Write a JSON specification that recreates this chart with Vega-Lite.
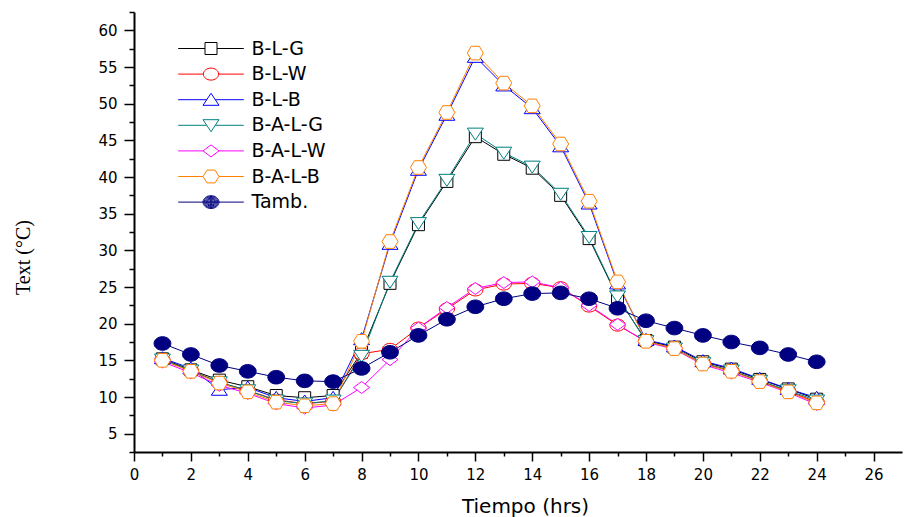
{
  "$schema": "https://vega.github.io/schema/vega-lite/v6.json",
  "width": 768,
  "height": 440,
  "autosize": {"type": "none"},
  "padding": {"left": 134, "top": 12, "right": 2, "bottom": 65},
  "background": "white",
  "config": {
    "view": {"stroke": null},
    "axis": {"grid": false, "domainColor": "black", "domainWidth": 2, "tickColor": "black", "tickWidth": 1.5, "labelColor": "black", "titleColor": "black", "labelFont": "DejaVu Sans", "labelFontSize": 15, "labelOverlap": false, "labelFlush": false, "labelBound": false}
  },
  "datasets": {
    "temps": [
      {"s":"B-L-G","t":1,"v":15.2},{"s":"B-L-G","t":2,"v":13.7},{"s":"B-L-G","t":3,"v":12.3},{"s":"B-L-G","t":4,"v":11.4},{"s":"B-L-G","t":5,"v":10.2},{"s":"B-L-G","t":6,"v":9.9},{"s":"B-L-G","t":7,"v":10.2},{"s":"B-L-G","t":8,"v":16.1},{"s":"B-L-G","t":9,"v":25.5},{"s":"B-L-G","t":10,"v":33.5},{"s":"B-L-G","t":11,"v":39.4},{"s":"B-L-G","t":12,"v":45.5},{"s":"B-L-G","t":13,"v":43.1},{"s":"B-L-G","t":14,"v":41.2},{"s":"B-L-G","t":15,"v":37.5},{"s":"B-L-G","t":16,"v":31.6},{"s":"B-L-G","t":17,"v":23.6},{"s":"B-L-G","t":18,"v":17.7},{"s":"B-L-G","t":19,"v":16.8},{"s":"B-L-G","t":20,"v":14.8},{"s":"B-L-G","t":21,"v":13.8},{"s":"B-L-G","t":22,"v":12.4},{"s":"B-L-G","t":23,"v":11.1},{"s":"B-L-G","t":24,"v":9.7},
      {"s":"B-L-W","t":1,"v":15.1},{"s":"B-L-W","t":2,"v":13.6},{"s":"B-L-W","t":3,"v":12.0},{"s":"B-L-W","t":4,"v":10.9},{"s":"B-L-W","t":5,"v":9.6},{"s":"B-L-W","t":6,"v":9.1},{"s":"B-L-W","t":7,"v":9.4},{"s":"B-L-W","t":8,"v":15.9},{"s":"B-L-W","t":9,"v":16.5},{"s":"B-L-W","t":10,"v":19.4},{"s":"B-L-W","t":11,"v":22.0},{"s":"B-L-W","t":12,"v":24.6},{"s":"B-L-W","t":13,"v":25.4},{"s":"B-L-W","t":14,"v":25.5},{"s":"B-L-W","t":15,"v":24.9},{"s":"B-L-W","t":16,"v":22.4},{"s":"B-L-W","t":17,"v":19.8},{"s":"B-L-W","t":18,"v":17.6},{"s":"B-L-W","t":19,"v":16.6},{"s":"B-L-W","t":20,"v":14.6},{"s":"B-L-W","t":21,"v":13.6},{"s":"B-L-W","t":22,"v":12.2},{"s":"B-L-W","t":23,"v":10.8},{"s":"B-L-W","t":24,"v":9.3},
      {"s":"B-L-B","t":1,"v":15.3},{"s":"B-L-B","t":2,"v":13.9},{"s":"B-L-B","t":3,"v":11.0},{"s":"B-L-B","t":4,"v":11.3},{"s":"B-L-B","t":5,"v":9.9},{"s":"B-L-B","t":6,"v":9.4},{"s":"B-L-B","t":7,"v":9.9},{"s":"B-L-B","t":8,"v":17.9},{"s":"B-L-B","t":9,"v":30.9},{"s":"B-L-B","t":10,"v":41.0},{"s":"B-L-B","t":11,"v":48.5},{"s":"B-L-B","t":12,"v":56.4},{"s":"B-L-B","t":13,"v":52.5},{"s":"B-L-B","t":14,"v":49.4},{"s":"B-L-B","t":15,"v":44.2},{"s":"B-L-B","t":16,"v":36.4},{"s":"B-L-B","t":17,"v":25.5},{"s":"B-L-B","t":18,"v":17.8},{"s":"B-L-B","t":19,"v":16.9},{"s":"B-L-B","t":20,"v":14.9},{"s":"B-L-B","t":21,"v":13.9},{"s":"B-L-B","t":22,"v":12.5},{"s":"B-L-B","t":23,"v":11.1},{"s":"B-L-B","t":24,"v":9.9},
      {"s":"B-A-L-G","t":1,"v":15.1},{"s":"B-A-L-G","t":2,"v":13.6},{"s":"B-A-L-G","t":3,"v":12.0},{"s":"B-A-L-G","t":4,"v":10.9},{"s":"B-A-L-G","t":5,"v":9.5},{"s":"B-A-L-G","t":6,"v":9.1},{"s":"B-A-L-G","t":7,"v":9.5},{"s":"B-A-L-G","t":8,"v":15.6},{"s":"B-A-L-G","t":9,"v":25.7},{"s":"B-A-L-G","t":10,"v":33.7},{"s":"B-A-L-G","t":11,"v":39.6},{"s":"B-A-L-G","t":12,"v":45.9},{"s":"B-A-L-G","t":13,"v":43.3},{"s":"B-A-L-G","t":14,"v":41.4},{"s":"B-A-L-G","t":15,"v":37.7},{"s":"B-A-L-G","t":16,"v":31.8},{"s":"B-A-L-G","t":17,"v":23.7},{"s":"B-A-L-G","t":18,"v":17.6},{"s":"B-A-L-G","t":19,"v":16.6},{"s":"B-A-L-G","t":20,"v":14.6},{"s":"B-A-L-G","t":21,"v":13.6},{"s":"B-A-L-G","t":22,"v":12.2},{"s":"B-A-L-G","t":23,"v":10.9},{"s":"B-A-L-G","t":24,"v":9.5},
      {"s":"B-A-L-W","t":1,"v":14.8},{"s":"B-A-L-W","t":2,"v":13.3},{"s":"B-A-L-W","t":3,"v":11.6},{"s":"B-A-L-W","t":4,"v":10.5},{"s":"B-A-L-W","t":5,"v":9.1},{"s":"B-A-L-W","t":6,"v":8.5},{"s":"B-A-L-W","t":7,"v":8.9},{"s":"B-A-L-W","t":8,"v":11.3},{"s":"B-A-L-W","t":9,"v":15.1},{"s":"B-A-L-W","t":10,"v":19.4},{"s":"B-A-L-W","t":11,"v":22.2},{"s":"B-A-L-W","t":12,"v":24.8},{"s":"B-A-L-W","t":13,"v":25.6},{"s":"B-A-L-W","t":14,"v":25.7},{"s":"B-A-L-W","t":15,"v":24.9},{"s":"B-A-L-W","t":16,"v":22.5},{"s":"B-A-L-W","t":17,"v":19.9},{"s":"B-A-L-W","t":18,"v":17.5},{"s":"B-A-L-W","t":19,"v":16.5},{"s":"B-A-L-W","t":20,"v":14.4},{"s":"B-A-L-W","t":21,"v":13.3},{"s":"B-A-L-W","t":22,"v":12.0},{"s":"B-A-L-W","t":23,"v":10.6},{"s":"B-A-L-W","t":24,"v":9.0},
      {"s":"B-A-L-B","t":1,"v":15.0},{"s":"B-A-L-B","t":2,"v":13.5},{"s":"B-A-L-B","t":3,"v":11.9},{"s":"B-A-L-B","t":4,"v":10.7},{"s":"B-A-L-B","t":5,"v":9.3},{"s":"B-A-L-B","t":6,"v":8.8},{"s":"B-A-L-B","t":7,"v":9.1},{"s":"B-A-L-B","t":8,"v":17.6},{"s":"B-A-L-B","t":9,"v":31.2},{"s":"B-A-L-B","t":10,"v":41.3},{"s":"B-A-L-B","t":11,"v":48.8},{"s":"B-A-L-B","t":12,"v":56.9},{"s":"B-A-L-B","t":13,"v":52.8},{"s":"B-A-L-B","t":14,"v":49.7},{"s":"B-A-L-B","t":15,"v":44.5},{"s":"B-A-L-B","t":16,"v":36.7},{"s":"B-A-L-B","t":17,"v":25.7},{"s":"B-A-L-B","t":18,"v":17.6},{"s":"B-A-L-B","t":19,"v":16.6},{"s":"B-A-L-B","t":20,"v":14.5},{"s":"B-A-L-B","t":21,"v":13.5},{"s":"B-A-L-B","t":22,"v":12.1},{"s":"B-A-L-B","t":23,"v":10.7},{"s":"B-A-L-B","t":24,"v":9.2},
      {"s":"Tamb.","t":1,"v":17.3},{"s":"Tamb.","t":2,"v":15.8},{"s":"Tamb.","t":3,"v":14.3},{"s":"Tamb.","t":4,"v":13.5},{"s":"Tamb.","t":5,"v":12.7},{"s":"Tamb.","t":6,"v":12.2},{"s":"Tamb.","t":7,"v":12.1},{"s":"Tamb.","t":8,"v":13.9},{"s":"Tamb.","t":9,"v":16.1},{"s":"Tamb.","t":10,"v":18.4},{"s":"Tamb.","t":11,"v":20.6},{"s":"Tamb.","t":12,"v":22.3},{"s":"Tamb.","t":13,"v":23.4},{"s":"Tamb.","t":14,"v":24.1},{"s":"Tamb.","t":15,"v":24.2},{"s":"Tamb.","t":16,"v":23.4},{"s":"Tamb.","t":17,"v":22.1},{"s":"Tamb.","t":18,"v":20.4},{"s":"Tamb.","t":19,"v":19.4},{"s":"Tamb.","t":20,"v":18.4},{"s":"Tamb.","t":21,"v":17.5},{"s":"Tamb.","t":22,"v":16.7},{"s":"Tamb.","t":23,"v":15.8},{"s":"Tamb.","t":24,"v":14.8}
    ]
  },
  "data": {"name": "temps"},
  "resolve": {"scale": {"stroke": "independent", "fill": "independent", "shape": "independent"}},
  "layer": [
    {
      "mark": {"type": "point", "size": 256, "strokeWidth": 1, "filled": true, "opacity": 0},
      "encoding": {
        "x": {
          "field": "t", "type": "quantitative",
          "scale": {"domain": [0, 27], "nice": false, "zero": false},
          "axis": {
            "values": [0,1,2,3,4,5,6,7,8,9,10,11,12,13,14,15,16,17,18,19,20,21,22,23,24,25,26],
            "tickCount": 100,
            "labelExpr": "datum.value % 2 === 0 ? format(datum.value, 'd') : ''",
            "tickSize": {"condition": {"test": "datum.value % 2 === 0", "value": 9}, "value": 4},
            "labelPadding": 6,
            "title": "Tiempo (hrs)", "titleFont": "DejaVu Sans", "titleFontSize": 20, "titleFontWeight": "normal",
            "titleX": 391, "titleY": 60, "titleBaseline": "alphabetic", "titleAlign": "center"
          }
        },
        "y": {
          "field": "v", "type": "quantitative",
          "scale": {"domain": [2.5, 62.5], "nice": false, "zero": false},
          "axis": {
            "values": [2.5,5,7.5,10,12.5,15,17.5,20,22.5,25,27.5,30,32.5,35,37.5,40,42.5,45,47.5,50,52.5,55,57.5,60,62.5],
            "tickCount": 100,
            "labelExpr": "datum.value % 5 === 0 ? format(datum.value, 'd') : ''",
            "tickSize": {"condition": {"test": "datum.value % 5 === 0", "value": 10}, "value": 5},
            "labelPadding": 7,
            "title": "Text (°C)", "titleFont": "Liberation Serif", "titleFontSize": 20, "titleFontWeight": "normal",
            "titleX": -111, "titleY": 245, "titleAngle": -90, "titleAlign": "center", "titleBaseline": "middle"
          }
        },
        "stroke": {
          "field": "s", "type": "nominal",
          "scale": {"domain": ["B-L-G","B-L-W","B-L-B","B-A-L-G","B-A-L-W","B-A-L-B","Tamb."], "range": ["#000000","#FF0000","#0000FF","#008080","#FF00FF","#FF8000","#000080"]},
          "legend": {
            "orient": "none", "legendX": 41.5, "legendY": 27, "title": null,
            "labelFont": "DejaVu Sans", "labelFontSize": 19, "labelColor": "black",
            "symbolSize": 256, "symbolStrokeWidth": 1, "symbolOpacity": 1, "symbolOffset": 26, "labelOffset": 31, "rowPadding": 5.6, "padding": 0
          }
        },
        "fill": {
          "field": "s", "type": "nominal",
          "scale": {"domain": ["B-L-G","B-L-W","B-L-B","B-A-L-G","B-A-L-W","B-A-L-B","Tamb."], "range": ["#FFFFFF","#FFFFFF","#FFFFFF","#FFFFFF","#FFFFFF","#FFFFFF","#000080"]}
        },
        "shape": {
          "field": "s", "type": "nominal",
          "scale": {"domain": ["B-L-G","B-L-W","B-L-B","B-A-L-G","B-A-L-W","B-A-L-B","Tamb."], "range": [
            "M-4.1,0H-0.75M0.75,0H4.1M-0.75,-0.75H0.75V0.75H-0.75Z",
            "M-4.1,0H-0.95M0.95,0H4.1M-0.95,0A0.95,0.75,0,1,0,0.95,0A0.95,0.75,0,1,0,-0.95,0Z",
            "M-4.1,0H-0.53M0.53,0H4.1M0,-0.8L1,0.7L-1,0.7Z",
            "M-4.1,0H-0.53M0.53,0H4.1M-1,-0.7L1,-0.7L0,0.8Z",
            "M-4.1,0H-1M1,0H4.1M-1,0L0,-0.75L1,0L0,0.75Z",
            "M-4.1,0H-1M1,0H4.1M-1,0L-0.5,-0.8L0.5,-0.8L1,0L0.5,0.8L-0.5,0.8Z",
            "M-4.1,0H4.1M-1,0A1,0.8,0,1,0,1,0A1,0.8,0,1,0,-1,0ZM-0.875,0A0.875,0.7,0,1,0,0.875,0A0.875,0.7,0,1,0,-0.875,0ZM-0.75,0A0.75,0.6,0,1,0,0.75,0A0.75,0.6,0,1,0,-0.75,0ZM-0.625,0A0.625,0.5,0,1,0,0.625,0A0.625,0.5,0,1,0,-0.625,0ZM-0.5,0A0.5,0.4,0,1,0,0.5,0A0.5,0.4,0,1,0,-0.5,0ZM-0.375,0A0.375,0.3,0,1,0,0.375,0A0.375,0.3,0,1,0,-0.375,0ZM-0.25,0A0.25,0.2,0,1,0,0.25,0A0.25,0.2,0,1,0,-0.25,0ZM-0.125,0A0.125,0.1,0,1,0,0.125,0A0.125,0.1,0,1,0,-0.125,0Z"
          ]}
        }
      }
    },
    {
      "mark": {"type": "line", "strokeWidth": 1},
      "encoding": {
        "x": {"field": "t", "type": "quantitative"},
        "y": {"field": "v", "type": "quantitative"},
        "stroke": {
          "field": "s", "type": "nominal", "legend": null,
          "scale": {"domain": ["B-L-G","B-L-W","B-L-B","B-A-L-G","B-A-L-W","B-A-L-B","Tamb."], "range": ["#000000","#FF0000","#0000FF","#008080","#FF00FF","#FF8000","#000080"]}
        }
      }
    },
    {
      "mark": {"type": "point", "size": 256, "strokeWidth": 1, "filled": true, "opacity": 1},
      "encoding": {
        "x": {"field": "t", "type": "quantitative"},
        "y": {"field": "v", "type": "quantitative"},
        "stroke": {
          "field": "s", "type": "nominal", "legend": null,
          "scale": {"domain": ["B-L-G","B-L-W","B-L-B","B-A-L-G","B-A-L-W","B-A-L-B","Tamb."], "range": ["#000000","#FF0000","#0000FF","#008080","#FF00FF","#FF8000","#000080"]}
        },
        "fill": {
          "field": "s", "type": "nominal", "legend": null,
          "scale": {"domain": ["B-L-G","B-L-W","B-L-B","B-A-L-G","B-A-L-W","B-A-L-B","Tamb."], "range": ["#FFFFFF","#FFFFFF","#FFFFFF","#FFFFFF","#FFFFFF","#FFFFFF","#000080"]}
        },
        "shape": {
          "field": "s", "type": "nominal", "legend": null,
          "scale": {"domain": ["B-L-G","B-L-W","B-L-B","B-A-L-G","B-A-L-W","B-A-L-B","Tamb."], "range": [
            "M-0.75,-0.75H0.75V0.75H-0.75Z",
            "M-0.95,0A0.95,0.75,0,1,0,0.95,0A0.95,0.75,0,1,0,-0.95,0Z",
            "M0,-0.8L1,0.7L-1,0.7Z",
            "M-1,-0.7L1,-0.7L0,0.8Z",
            "M-1,0L0,-0.75L1,0L0,0.75Z",
            "M-1,0L-0.5,-0.85L0.5,-0.85L1,0L0.5,0.85L-0.5,0.85Z",
            "M-1.05,0A1.05,0.85,0,1,0,1.05,0A1.05,0.85,0,1,0,-1.05,0Z"
          ]}
        }
      }
    }
  ]
}
